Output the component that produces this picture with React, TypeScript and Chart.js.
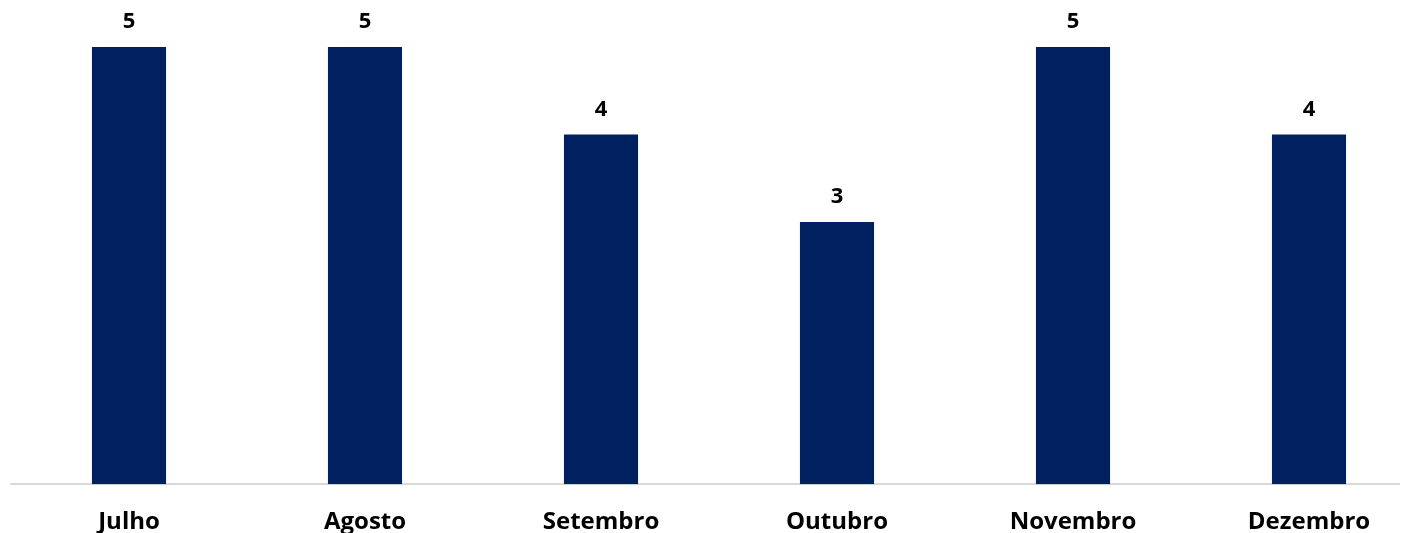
import React, { useEffect, useRef } from "react";
import { Chart, registerables } from "chart.js";

Chart.register(...registerables);

const categories = ["Julho", "Agosto", "Setembro", "Outubro", "Novembro", "Dezembro"];
const values = [5, 5, 4, 3, 5, 4];

const barColor = "#002060";

const valueLabelPlugin = {
  id: "valueLabels",
  afterDatasetsDraw(chart: any) {
    const ctx = chart.ctx;
    const meta = chart.getDatasetMeta(0);
    ctx.save();
    ctx.font = "bold 22px 'Open Sans'";
    ctx.fillStyle = "#000000";
    ctx.textAlign = "center";
    ctx.textBaseline = "middle";
    meta.data.forEach((bar: any, i: number) => {
      ctx.fillText(String(values[i]), bar.x, bar.y - 25);
    });
    ctx.restore();
  },
};

export default function App() {
  const ref = useRef<HTMLCanvasElement | null>(null);
  useEffect(() => {
    if (!ref.current) return;
    const chart = new Chart(ref.current, {
      type: "bar",
      data: {
        labels: categories,
        datasets: [
          {
            data: values,
            backgroundColor: barColor,
            borderWidth: 0,
            categoryPercentage: 1,
            barPercentage: 0.314,
          },
        ],
      },
      options: {
        animation: false,
        responsive: false,
        maintainAspectRatio: false,
        layout: { padding: { top: 47, left: 11, right: 3, bottom: -28 } },
        plugins: { legend: { display: false }, tooltip: { enabled: false } },
        scales: {
          y: { display: false, min: 0, max: 5 },
          x: {
            grid: { display: false, drawTicks: false },
            border: { display: true, color: "#d9d9d9", width: 2 },
            ticks: {
              color: "#000000",
              padding: 24,
              maxRotation: 0,
              autoSkip: false,
              font: { family: "'Open Sans'", weight: "bold", size: 24 },
            },
          },
        },
      },
      plugins: [valueLabelPlugin],
    });
    return () => chart.destroy();
  }, []);
  return (
    <div style={{ margin: "-8px 0 0 -8px", width: 1408, height: 533, overflow: "hidden", position: "relative" }}>
      <canvas ref={ref} width={1430} height={533} style={{ display: "block", width: 1430, height: 533 }} />
    </div>
  );
}
